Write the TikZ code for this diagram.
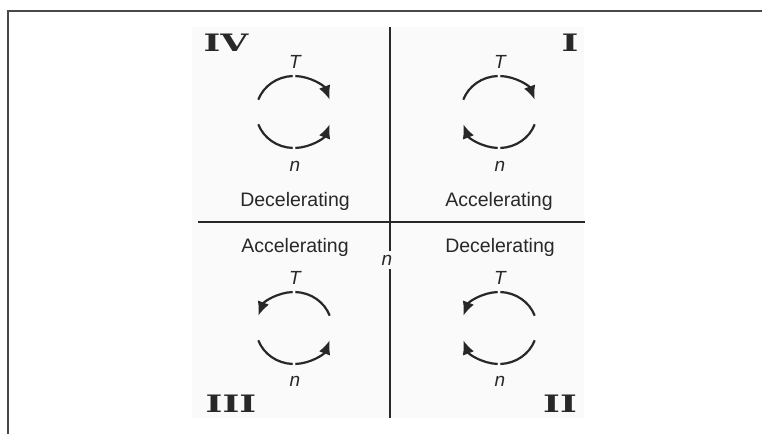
\documentclass[tikz,border=0pt]{standalone}
\usepackage{fontspec}
\setmainfont{Liberation Sans}
\newfontfamily\numfont{DejaVu Serif}
\definecolor{InkDark}{RGB}{40,40,40}
\definecolor{PanelGray}{RGB}{250,250,250}
\usetikzlibrary{arrows.meta}

\begin{document}
\begin{tikzpicture}[
    x=1pt, y=1pt,
    axis/.style={line width=2pt, InkDark},
    flow/.style={line width=2.2pt, InkDark},
    flowarr/.style={flow, -{Latex[length=14pt, width=12pt]}},
    mode/.style={font=\fontsize{19.5}{21}\selectfont, text=InkDark, inner sep=0pt},
    var/.style={font=\fontsize{19}{21}\selectfont\itshape, text=InkDark, inner sep=1pt},
    quad/.style={font=\numfont\bfseries\fontsize{24}{26}\selectfont, text=InkDark,
                 xscale=1.5, inner sep=0pt}
  ]
    \useasboundingbox (0,0) rectangle (762,434);

    % Frame and panel
    \draw[line width=1.6pt, InkDark!85] (8,0) -- (8,423) -- (762,423);
    \fill[PanelGray] (192,16) rectangle (584,407);

    % Axes
    \coordinate (vtop) at (390,407);
    \coordinate (vbot) at (390,16);
    \coordinate (hleft) at (198,212);
    \coordinate (hright) at (585,212);
    \node[var, inner sep=4pt] (naxis) at (387,174) {n};
    \draw[axis] (hleft) -- (hright);
    \draw[axis] (vtop) -- (vtop |- naxis.north);
    \draw[axis] (vbot |- naxis.south) -- (vbot);

    % Quadrant IV
    \coordinate (c4) at (294,322);
    \node[var] (t4) at (295,372) {T};
    \node[var] (n4) at (295,268) {n};
    \node[mode] (m4) at (295,233) {Decelerating};
    \node[quad] (q4) at (226,391) {IV};
    \draw[flow] (c4) ++(160:38 and 36) arc[start angle=160, end angle=92, x radius=38, y radius=36];
    \draw[flowarr] (c4) ++(88:38 and 36) arc[start angle=88, end angle=20, x radius=38, y radius=36];
    \draw[flow] (c4) ++(200:38 and 36) arc[start angle=200, end angle=268, x radius=38, y radius=36];
    \draw[flowarr] (c4) ++(272:38 and 36) arc[start angle=272, end angle=340, x radius=38, y radius=36];

    % Quadrant I
    \coordinate (c1) at (499,322);
    \node[var] (t1) at (500,372) {T};
    \node[var] (n1) at (500,268) {n};
    \node[mode] (m1) at (499,233) {Accelerating};
    \node[quad] (q1) at (570,391) {I};
    \draw[flow] (c1) ++(160:38 and 36) arc[start angle=160, end angle=92, x radius=38, y radius=36];
    \draw[flowarr] (c1) ++(88:38 and 36) arc[start angle=88, end angle=20, x radius=38, y radius=36];
    \draw[flowarr] (c1) ++(268:38 and 36) arc[start angle=268, end angle=200, x radius=38, y radius=36];
    \draw[flow] (c1) ++(340:38 and 36) arc[start angle=340, end angle=272, x radius=38, y radius=36];

    % Quadrant III
    \coordinate (c3) at (294,106);
    \node[mode] (m3) at (295,187) {Accelerating};
    \node[var] (t3) at (295,156) {T};
    \node[var] (n3) at (295,53) {n};
    \node[quad] (q3) at (231,30) {III};
    \draw[flowarr] (c3) ++(92:38 and 36) arc[start angle=92, end angle=160, x radius=38, y radius=36];
    \draw[flow] (c3) ++(20:38 and 36) arc[start angle=20, end angle=88, x radius=38, y radius=36];
    \draw[flow] (c3) ++(200:38 and 36) arc[start angle=200, end angle=268, x radius=38, y radius=36];
    \draw[flowarr] (c3) ++(272:38 and 36) arc[start angle=272, end angle=340, x radius=38, y radius=36];

    % Quadrant II
    \coordinate (c2) at (499,106);
    \node[mode] (m2) at (500,187) {Decelerating};
    \node[var] (t2) at (500,156) {T};
    \node[var] (n2) at (500,53) {n};
    \node[quad] (q2) at (560,30) {II};
    \draw[flowarr] (c2) ++(92:38 and 36) arc[start angle=92, end angle=160, x radius=38, y radius=36];
    \draw[flow] (c2) ++(20:38 and 36) arc[start angle=20, end angle=88, x radius=38, y radius=36];
    \draw[flowarr] (c2) ++(268:38 and 36) arc[start angle=268, end angle=200, x radius=38, y radius=36];
    \draw[flow] (c2) ++(340:38 and 36) arc[start angle=340, end angle=272, x radius=38, y radius=36];
\end{tikzpicture}
\end{document}
